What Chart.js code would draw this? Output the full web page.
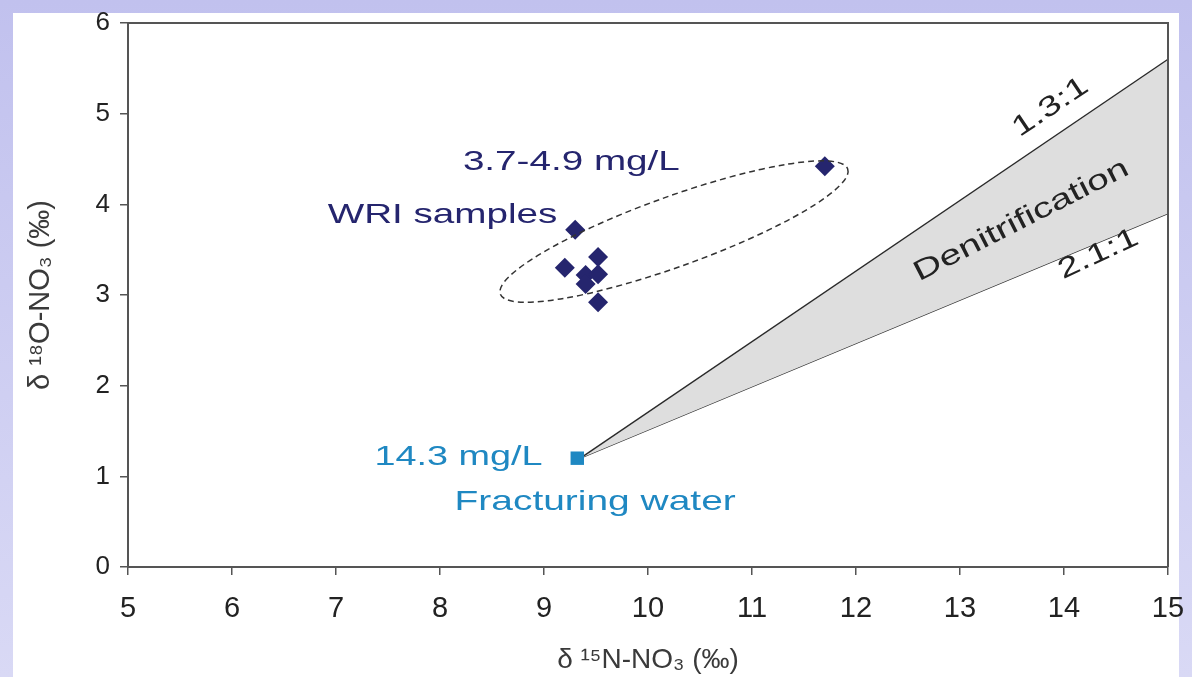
<!DOCTYPE html>
<html>
<head>
<meta charset="utf-8">
<script src="https://cdn.jsdelivr.net/npm/chart.js@4/dist/chart.umd.min.js"></script>
<style>
  html, body { margin: 0; padding: 0; }
  body {
    width: 1192px; height: 677px; overflow: hidden; position: relative;
    background: linear-gradient(to bottom, #c1c1ee, #d9d9f5);
  }
  #panel { position: absolute; left: 13px; top: 13px; width: 1166px; height: 664px; background: #fff; }
  #wrap { position: absolute; left: 0; top: 0; width: 1192px; height: 677px; }
</style>
</head>
<body>
<div id="panel"></div>
<div id="wrap"><canvas id="isotopeChart"></canvas></div>
<script>
// WRI samples (diamonds)
var wriX = [11.7, 9.3, 9.2, 9.52, 9.4, 9.52, 9.4, 9.52];
var wriY = [4.42, 3.72, 3.3, 3.42, 3.22, 3.23, 3.12, 2.92];
// fracturing water (square)
var fracX = [9.32];
var fracY = [1.2];
// denitrification wedge: 1.3:1 and 2.1:1 lines
var wedgeX = [9.35, 15];
var upperY = [1.2, 5.6];
var lowerY = [1.2, 3.9];
var xTicks = [5, 6, 7, 8, 9, 10, 11, 12, 13, 14, 15];
var yTicks = [0, 1, 2, 3, 4, 5, 6];

function pts(xs, ys) {
  return xs.map(function (x, i) { return { x: x, y: ys[i] }; });
}

var navy = '#25256e';
var cyan = '#1f88c2';
var fontName = '"Liberation Sans", Arial, sans-serif';

// text notes; stretch widens glyphs like the original figure
var notes = [
  { text: '3.7-4.9 mg/L', x: 8.22, y: 4.46, color: navy, size: 28, stretch: 1.38, align: 'left', angle: 0 },
  { text: 'WRI samples', x: 6.92, y: 3.88, color: navy, size: 28, stretch: 1.38, align: 'left', angle: 0 },
  { text: '14.3 mg/L', x: 7.37, y: 1.215, color: cyan, size: 28, stretch: 1.35, align: 'left', angle: 0 },
  { text: 'Fracturing water', x: 8.14, y: 0.71, color: cyan, size: 28, stretch: 1.39, align: 'left', angle: 0 },
  { text: '1.3:1', x: 13.87, y: 5.07, color: '#222', size: 28, stretch: 1.37, align: 'center', angle: -34 },
  { text: '2.1:1', x: 14.33, y: 3.45, color: '#222', size: 28, stretch: 1.37, align: 'center', angle: -25 },
  { text: 'Denitrification', x: 13.59, y: 3.82, color: '#222', size: 28, stretch: 1.4, align: 'center', angle: -27 }
];

var ellipse = { x1: 8.58, y1: 3.01, x2: 11.92, y2: 4.39, minor: 35 };

var extras = {
  id: 'extras',
  afterDatasetsDraw: function (chart) {
    var ctx = chart.ctx, xs = chart.scales.x, ys = chart.scales.y, a = chart.chartArea;
    ctx.save();
    // box top/right
    ctx.strokeStyle = '#555';
    ctx.lineWidth = 2;
    ctx.beginPath();
    ctx.moveTo(a.left, a.top);
    ctx.lineTo(a.right, a.top);
    ctx.lineTo(a.right, a.bottom);
    ctx.stroke();
    // dashed ellipse round the WRI samples
    var px1 = xs.getPixelForValue(ellipse.x1), py1 = ys.getPixelForValue(ellipse.y1);
    var px2 = xs.getPixelForValue(ellipse.x2), py2 = ys.getPixelForValue(ellipse.y2);
    var cx = (px1 + px2) / 2, cy = (py1 + py2) / 2;
    var rot = Math.atan2(py2 - py1, px2 - px1);
    var major = Math.hypot(px2 - px1, py2 - py1) / 2;
    ctx.setLineDash([6, 4]);
    ctx.lineWidth = 1.5;
    ctx.strokeStyle = '#333';
    ctx.beginPath();
    ctx.ellipse(cx, cy, major, ellipse.minor, rot, 0, Math.PI * 2);
    ctx.stroke();
    ctx.setLineDash([]);
    // labels
    notes.forEach(function (n) {
      ctx.save();
      ctx.translate(xs.getPixelForValue(n.x), ys.getPixelForValue(n.y));
      ctx.rotate(n.angle * Math.PI / 180);
      ctx.scale(n.stretch, 1);
      ctx.font = n.size + 'px ' + fontName;
      ctx.fillStyle = n.color;
      ctx.textAlign = n.align;
      ctx.textBaseline = 'middle';
      ctx.fillText(n.text, 0, 0);
      ctx.restore();
    });
    ctx.restore();
  }
};

var chart = new Chart(document.getElementById('isotopeChart'), {
  type: 'scatter',
  data: {
    datasets: [{
      label: 'WRI samples',
      data: pts(wriX, wriY),
      pointStyle: 'rectRot',
      pointRadius: 10,
      backgroundColor: navy,
      borderColor: navy,
      borderWidth: 0
    }, {
      label: 'Fracturing water',
      data: pts(fracX, fracY),
      pointStyle: 'rect',
      pointRadius: 9.5,
      backgroundColor: cyan,
      borderColor: cyan,
      borderWidth: 0
    }, {
      label: '1.3:1',
      data: pts(wedgeX, upperY),
      showLine: true,
      pointRadius: 0,
      borderColor: '#2a2a2a',
      borderWidth: 1.4,
      backgroundColor: '#dedede',
      fill: '+1'
    }, {
      label: '2.1:1',
      data: pts(wedgeX, lowerY),
      showLine: true,
      pointRadius: 0,
      borderColor: '#2a2a2a',
      borderWidth: 1.4,
      fill: false
    }]
  },
  options: {
    responsive: true,
    maintainAspectRatio: false,
    animation: false,
    layout: { padding: { left: 0, right: 24, top: 23, bottom: 0 } },
    plugins: { legend: { display: false }, tooltip: { enabled: false } },
    scales: {
      x: {
        type: 'linear',
        min: 5, max: 15,
        afterBuildTicks: function (s) { s.ticks = xTicks.map(function (v) { return { value: v }; }); },
        afterFit: function (s) { s.height = 110; s.paddingRight = 0; s.paddingLeft = 0; },
        grid: { display: true, drawOnChartArea: false, drawTicks: true, tickLength: 8, color: '#555', lineWidth: 1.5 },
        border: { display: true, color: '#555', width: 2 },
        ticks: { color: '#222', padding: 17, maxRotation: 0, font: { family: fontName, size: 29 } },
        title: { display: true, text: 'δ ¹⁵N-NO₃ (‰)', color: '#3a3a3a', padding: { top: 0, bottom: 0 }, font: { family: fontName, size: 28 } }
      },
      y: {
        type: 'linear',
        min: 0, max: 6,
        afterBuildTicks: function (s) { s.ticks = yTicks.map(function (v) { return { value: v }; }); },
        afterFit: function (s) { s.width = 128; s.paddingTop = 0; s.paddingBottom = 0; },
        grid: { display: true, drawOnChartArea: false, drawTicks: true, tickLength: 8, color: '#555', lineWidth: 1.5 },
        border: { display: true, color: '#555', width: 2 },
        ticks: { color: '#222', padding: 10, font: { family: fontName, size: 26 } },
        title: { display: true, text: 'δ ¹⁸O-NO₃ (‰)', color: '#3a3a3a', padding: { top: 24, bottom: 0 }, font: { family: fontName, size: 29 } }
      }
    }
  },
  plugins: [extras]
});
</script>
</body>
</html>
